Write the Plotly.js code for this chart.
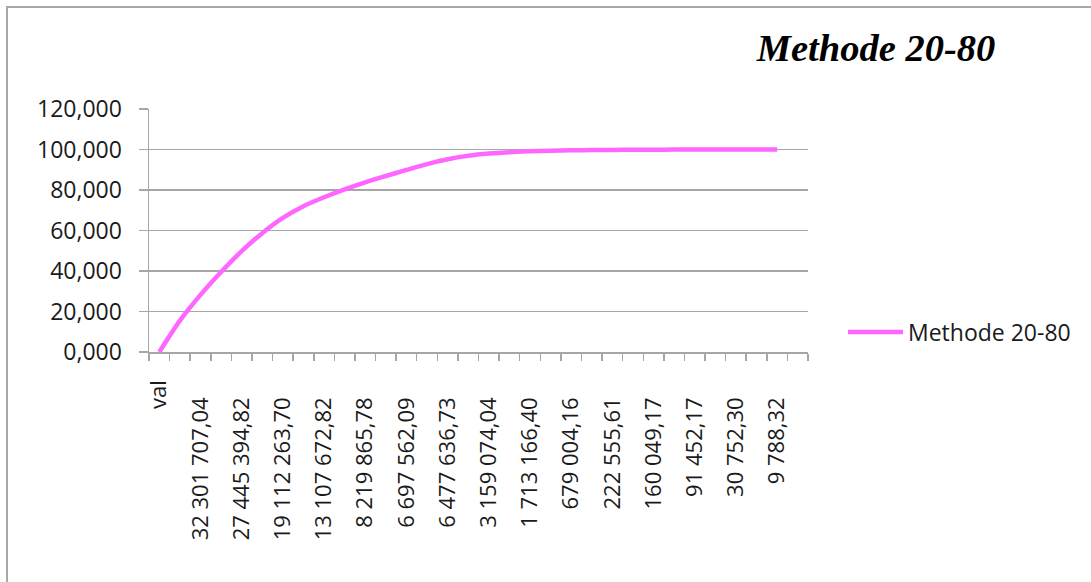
<!DOCTYPE html>
<html>
<head>
<meta charset="utf-8">
<script src="https://cdn.plot.ly/plotly-3.0.1.min.js"></script>
<style>
  html, body { margin: 0; padding: 0; background: #ffffff; }
  #wrap { position: relative; width: 1091px; height: 582px; overflow: hidden; }
  #chart { position: absolute; left: 0; top: 0; width: 1091px; height: 582px; }
  #frame { position: absolute; left: 6px; top: 6px; width: 1200px; height: 700px;
           border-left: 2px solid #a9a9a9; border-top: 2px solid #a9a9a9; pointer-events: none; }
</style>
</head>
<body>
<div id="wrap">
  <div id="chart"></div>
  <div id="frame"></div>
</div>
<script>
// ---- data ----
const chartTitle = 'Methode 20-80';
const seriesName = 'Methode 20-80';
// labels shown on every other category (categories 1,3,5,...,31)
const tickLabels = ['val', '32 301 707,04', '27 445 394,82', '19 112 263,70', '13 107 672,82',
  '8 219 865,78', '6 697 562,09', '6 477 636,73', '3 159 074,04', '1 713 166,40',
  '679 004,16', '222 555,61', '160 049,17', '91 452,17', '30 752,30', '9 788,32'];
// cumulative percentage per category (31 categories with data)
const cumulative = [0, 15.5, 28.2, 39.5, 49.8, 58.7, 66.2, 72.0, 76.4, 80.3, 83.8,
  86.9, 89.9, 92.8, 95.2, 96.9, 98.0, 98.7, 99.1, 99.4, 99.6, 99.72, 99.8, 99.87,
  99.92, 99.95, 99.97, 99.98, 99.99, 99.995, 100];
const categoryCount = 32;
const yTicks = [0, 20, 40, 60, 80, 100, 120];

// ---- build ----
const xs = cumulative.map((_, i) => i + 1);
const tickPos = tickLabels.map((_, i) => 1 + 2 * i);
const tickText = tickLabels.map(t => t === 'val' ? t : t + '\u00a0\u00a0\u00a0');

const trace = {
  x: xs, y: cumulative, type: 'scatter', mode: 'lines', name: seriesName,
  line: { color: '#ff66ff', width: 4.5, shape: 'spline', smoothing: 0.8 },
  showlegend: true
};

const gray = '#a6a6a6';
const tickFont = { family: 'Open Sans, sans-serif', size: 22, color: '#1a1a1a' };

const layout = {
  width: 1091, height: 582,
  margin: { l: 149, r: 283, t: 109, b: 230, pad: 0 },
  paper_bgcolor: '#ffffff', plot_bgcolor: '#ffffff',
  separators: ', ',
  title: {
    text: chartTitle, xref: 'container', yref: 'container',
    x: 876 / 1091, xanchor: 'center', y: 1 - 48 / 582, yanchor: 'middle',
    font: { family: 'Liberation Serif, serif', size: 38.5, weight: 'bold', style: 'italic', color: '#000000' }
  },
  xaxis: {
    range: [0.5, categoryCount + 0.5], fixedrange: true,
    tickmode: 'array', tickvals: tickPos, ticktext: tickText, tickangle: -90,
    ticks: '', ticklen: 0, ticklabelstandoff: 18,
    tickfont: tickFont,
    showgrid: false, zeroline: false,
    showline: true, linecolor: gray, linewidth: 1.5,
    minor: { tickmode: 'linear', tick0: 0.5, dtick: 1, ticks: 'outside', ticklen: 7, tickcolor: gray, tickwidth: 1.5, showgrid: false }
  },
  yaxis: {
    range: [0, 120], fixedrange: true,
    tickmode: 'array', tickvals: yTicks, tickformat: '.3f',
    ticks: 'outside', ticklen: 9, tickcolor: gray, tickwidth: 1.5,
    ticklabelstandoff: 12,
    tickfont: { family: 'Open Sans, sans-serif', size: 23, color: '#1a1a1a' },
    showgrid: true, gridcolor: gray, gridwidth: 1.5,
    zeroline: false, showline: true, linecolor: gray, linewidth: 1.5
  },
  legend: {
    x: (843 - 149) / 659, xanchor: 'left', y: (352 - 332) / 243, yanchor: 'middle',
    font: { family: 'Open Sans, sans-serif', size: 23, color: '#1a1a1a' },
    itemwidth: 55, bgcolor: 'rgba(0,0,0,0)', borderwidth: 0
  }
};

Plotly.newPlot('chart', [trace], layout, { staticPlot: true, displayModeBar: false });
</script>
</body>
</html>
